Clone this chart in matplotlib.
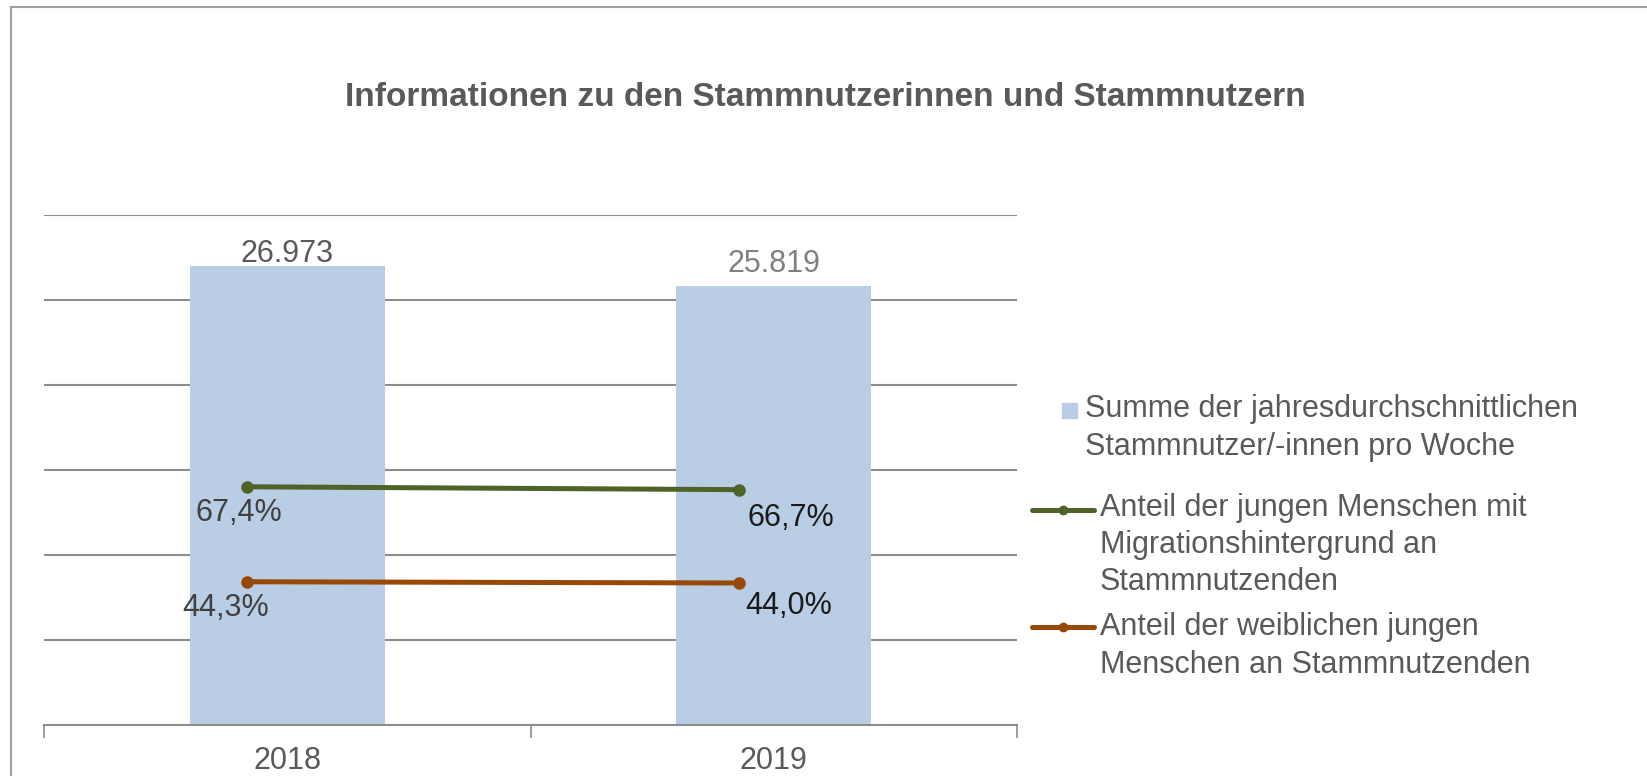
import matplotlib
matplotlib.use('Agg')
import matplotlib.pyplot as plt
from matplotlib.lines import Line2D
from matplotlib.patches import Rectangle
import numpy as np

plt.rcParams['font.family'] = ['Liberation Sans', 'DejaVu Sans']

# data
years = ['2018', '2019']
stammnutzer = [26973, 25819]
stammnutzer_labels = ['26.973', '25.819']
anteil_migration = [67.4, 66.7]
anteil_migration_labels = ['67,4%', '66,7%']
anteil_weiblich = [44.3, 44.0]
anteil_weiblich_labels = ['44,3%', '44,0%']

title = 'Informationen zu den Stammnutzerinnen und Stammnutzern'
legend_labels = ['Summe der jahresdurchschnittlichen\nStammnutzer/-innen pro Woche',
                 'Anteil der jungen Menschen mit\nMigrationshintergrund an\nStammnutzenden',
                 'Anteil der weiblichen jungen\nMenschen an Stammnutzenden']

bar_color = '#B9CDE5'
green = '#4F6228'
orange = '#984807'
text_gray = '#595959'
grid_gray = '#8C8C8C'
fs = 22

W, H = 1647, 776
fig = plt.figure(figsize=(W / 100, H / 100), dpi=100)

# axes placed in pixel coordinates of the reference
left, right, top, bottom = 44, 1017, 215, 725
ax = fig.add_axes([left / W, 1 - bottom / H, (right - left) / W, (bottom - top) / H])

x = np.arange(len(years))
ax.bar(x, stammnutzer, width=0.4, color=bar_color, zorder=2)
ax.set_xlim(-0.5, 1.5)
ax.set_ylim(0, 30000)
ax.set_yticks(np.arange(5000, 30001, 5000))
ax.yaxis.grid(True, color=grid_gray, linewidth=1.5, zorder=0)
ax.tick_params(axis='y', length=0, labelleft=False)
ax.set_xticks([-0.5, 0.5, 1.5], minor=False)
ax.set_xticklabels([])
ax.set_xticks(x, minor=True)
ax.set_xticklabels(years, minor=True, fontsize=fs, color=text_gray)
ax.tick_params(axis='x', which='major', length=9, color=grid_gray, width=1.2)
ax.tick_params(axis='x', which='minor', length=0, pad=15)
for s in ['top', 'right', 'left']:
    ax.spines[s].set_visible(False)
ax.spines['bottom'].set_color(grid_gray)
ax.spines['bottom'].set_linewidth(1.5)

bar_label_offsets = [-3, 7]
bar_label_colors = ['#595959', '#808080']
for i, v in enumerate(stammnutzer):
    ax.annotate(stammnutzer_labels[i], (x[i], v), xytext=(0, bar_label_offsets[i]),
                textcoords='offset pixels', ha='center', va='bottom',
                fontsize=fs, color=bar_label_colors[i])

# secondary axis for the percentages (hidden)
ax2 = ax.twinx()
ax2.set_ylim(9.46, 133.5)
ax2.set_xlim(-0.5, 1.5)
ax2.axis('off')
line_shift = [-0.083, -0.072]
lx = x + np.array(line_shift)
ax2.plot(lx, anteil_migration, color=green, linewidth=3.6, marker='o', markersize=8,
         solid_capstyle='round', zorder=3)
ax2.plot(lx, anteil_weiblich, color=orange, linewidth=3.6, marker='o', markersize=8,
         solid_capstyle='round', zorder=3)

pct_label_colors = ['#404040', '#1A1A1A']
mig_offsets = [(-8, -26), (52, -28)]
fem_offsets = [(-21, -26), (50, -23)]
for i in range(len(years)):
    ax2.annotate(anteil_migration_labels[i], (lx[i], anteil_migration[i]),
                 xytext=mig_offsets[i], textcoords='offset pixels',
                 ha='center', va='center', fontsize=fs, color=pct_label_colors[i])
    ax2.annotate(anteil_weiblich_labels[i], (lx[i], anteil_weiblich[i]),
                 xytext=fem_offsets[i], textcoords='offset pixels',
                 ha='center', va='center', fontsize=fs, color=pct_label_colors[i])

# title
fig.text(825 / W, 1 - 97 / H, title, ha='center', va='center', fontsize=24,
         fontweight='bold', color=text_gray)

# legend drawn by hand
fig.add_artist(Rectangle((1062 / W, 1 - 418 / H), 15 / W, 15 / H,
                         transform=fig.transFigure, color=bar_color))
fig.text(1085 / W, 1 - 428 / H, legend_labels[0], ha='left', va='center',
         fontsize=fs, color=text_gray, linespacing=1.31)
for yy, col in [(510, green), (627, orange)]:
    fig.add_artist(Line2D([1032 / W, 1094 / W], [1 - yy / H, 1 - yy / H],
                          transform=fig.transFigure, color=col, linewidth=3.6,
                          solid_capstyle='round'))
    fig.add_artist(Line2D([1063 / W], [1 - yy / H], transform=fig.transFigure,
                          color=col, marker='o', markersize=6))
fig.text(1100 / W, 1 - 545 / H, legend_labels[1], ha='left', va='center',
         fontsize=fs, color=text_gray, linespacing=1.31)
fig.text(1100 / W, 1 - 646 / H, legend_labels[2], ha='left', va='center',
         fontsize=fs, color=text_gray, linespacing=1.31)

# chart frame (cropped at right and bottom)
fig.add_artist(Line2D([11 / W, 11 / W], [0, 1 - 7 / H], transform=fig.transFigure,
                      color='#A0A0A0', linewidth=1.5))
fig.add_artist(Line2D([11 / W, 1], [1 - 7 / H, 1 - 7 / H], transform=fig.transFigure,
                      color='#A0A0A0', linewidth=1.5))

fig.savefig('out.png', dpi=100)
